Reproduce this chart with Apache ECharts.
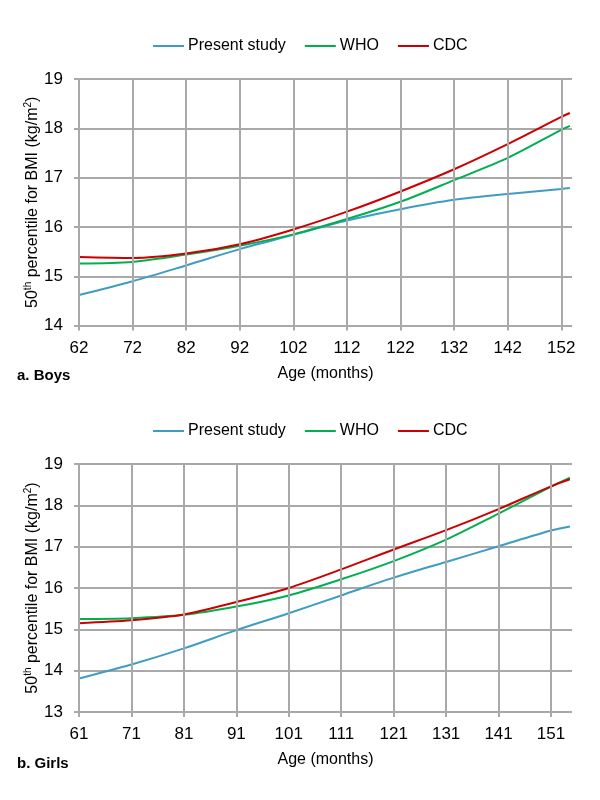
<!DOCTYPE html>
<html>
<head>
<meta charset="utf-8">
<script src="https://cdn.jsdelivr.net/npm/echarts@6/dist/echarts.min.js"></script>
<style>
html,body{margin:0;padding:0;background:#fff;}
#chart{width:600px;height:800px;}
</style>
</head>
<body>
<div id="chart"></div>
<script>
const seriesNames = ['Present study', 'WHO', 'CDC'];

const boysAge = [62, 72, 82, 92, 102, 112, 122, 132, 142, 152, 153.6];
const boysPresent = [14.62, 14.90, 15.22, 15.55, 15.84, 16.13, 16.36, 16.55, 16.67, 16.77, 16.79];
const boysWHO = [15.26, 15.29, 15.44, 15.62, 15.85, 16.16, 16.51, 16.95, 17.40, 17.97, 18.05];
const boysCDC = [15.39, 15.37, 15.46, 15.65, 15.95, 16.31, 16.72, 17.17, 17.68, 18.23, 18.31];
const boysTicks = [62, 72, 82, 92, 102, 112, 122, 132, 142, 152];

const girlsAge = [61, 71, 81, 91, 101, 111, 121, 131, 141, 151, 154.6];
const girlsPresent = [13.81, 14.15, 14.54, 14.98, 15.39, 15.82, 16.25, 16.63, 17.01, 17.39, 17.49];
const girlsWHO = [15.25, 15.27, 15.35, 15.55, 15.82, 16.21, 16.65, 17.17, 17.80, 18.45, 18.67];
const girlsCDC = [15.15, 15.22, 15.36, 15.66, 16.00, 16.45, 16.93, 17.40, 17.91, 18.46, 18.63];
const girlsTicks = [61, 71, 81, 91, 101, 111, 121, 131, 141, 151];

const panelTitles = ['a. Boys', 'b. Girls'];
const xTitle = 'Age (months)';

const FONT = '"Liberation Sans Narrow", "Liberation Sans", Arial, sans-serif';
const GRID = '#a9a9a9';
const COLORS = ['#3f9cc2', '#00b050', '#cc0000'];

function zip(xs, ys) { return xs.map((x, i) => [x, ys[i]]); }

function xAxisFor(idx, min, max, ticks) {
  return {
    type: 'value', gridIndex: idx, min: min, max: max,
    name: xTitle, nameLocation: 'middle', nameGap: 40,
    nameTextStyle: {fontFamily: FONT, fontSize: 16, color: '#000'},
    axisLine: {show: false},
    axisTick: {show: true, length: 5, customValues: ticks, lineStyle: {color: GRID, width: 2}},
    axisLabel: {customValues: ticks, margin: 14, fontFamily: FONT, fontSize: 17, color: '#000'},
    splitLine: {show: false}
  };
}
function yAxisFor(idx, min, max) {
  return {
    type: 'value', gridIndex: idx, min: min, max: max, interval: 1,
    name: '50{sup|th} percentile for BMI (kg/m{sup|2})',
    nameLocation: 'middle', nameGap: 36, nameRotate: 90, nameMoveOverlap: false,
    nameTextStyle: {fontFamily: FONT, fontSize: 16, color: '#000', lineHeight: 20,
      rich: {sup: {fontFamily: FONT, fontSize: 10, verticalAlign: 'top', lineHeight: 20, color: '#000'}}},
    axisLine: {show: false},
    axisTick: {show: true, length: 5, lineStyle: {color: GRID, width: 2}},
    axisLabel: {margin: 16, fontFamily: FONT, fontSize: 17, color: '#000'},
    splitLine: {show: true, lineStyle: {color: GRID, width: 2}}
  };
}
function lineSeries(name, idx, xs, ys, color, ticks) {
  const s = {
    name: name, type: 'line', xAxisIndex: idx, yAxisIndex: idx,
    data: zip(xs, ys), smooth: 0.3, showSymbol: false, symbol: 'none',
    lineStyle: {color: color, width: 2}, itemStyle: {color: color},
    animation: false, z: 3
  };
  if (ticks) {
    s.markLine = {
      silent: true, symbol: 'none', animation: false,
      label: {show: false},
      lineStyle: {color: GRID, width: 2, type: 'solid'},
      data: ticks.map(v => ({xAxis: v}))
    };
  }
  return s;
}
function legendFor(top) {
  return {
    top: top, left: 148, data: seriesNames, icon: 'rect',
    itemWidth: 31, itemHeight: 2, itemGap: 19,
    textStyle: {fontFamily: FONT, fontSize: 16, color: '#000', padding: [0, 0, 0, -1]},
    selectedMode: false
  };
}

const chart = echarts.init(document.getElementById('chart'), null, {renderer: 'canvas'});
chart.setOption({
  backgroundColor: '#fff',
  animation: false,
  color: COLORS,
  title: [
    {text: panelTitles[0], left: 12, top: 363, textStyle: {fontFamily: FONT, fontSize: 15, fontWeight: 'bold', color: '#000'}},
    {text: panelTitles[1], left: 12, top: 751, textStyle: {fontFamily: FONT, fontSize: 15, fontWeight: 'bold', color: '#000'}}
  ],
  legend: [legendFor(33), legendFor(418)],
  grid: [
    {left: 79, top: 79, width: 493, height: 246.6},
    {left: 79, top: 464, width: 493, height: 248}
  ],
  xAxis: [xAxisFor(0, 62, 154, boysTicks), xAxisFor(1, 61, 155, girlsTicks)],
  yAxis: [yAxisFor(0, 14, 19), yAxisFor(1, 13, 19)],
  series: [
    lineSeries(seriesNames[0], 0, boysAge, boysPresent, COLORS[0], boysTicks),
    lineSeries(seriesNames[1], 0, boysAge, boysWHO, COLORS[1]),
    lineSeries(seriesNames[2], 0, boysAge, boysCDC, COLORS[2]),
    lineSeries(seriesNames[0], 1, girlsAge, girlsPresent, COLORS[0], girlsTicks),
    lineSeries(seriesNames[1], 1, girlsAge, girlsWHO, COLORS[1]),
    lineSeries(seriesNames[2], 1, girlsAge, girlsCDC, COLORS[2])
  ]
});
</script>
</body>
</html>
